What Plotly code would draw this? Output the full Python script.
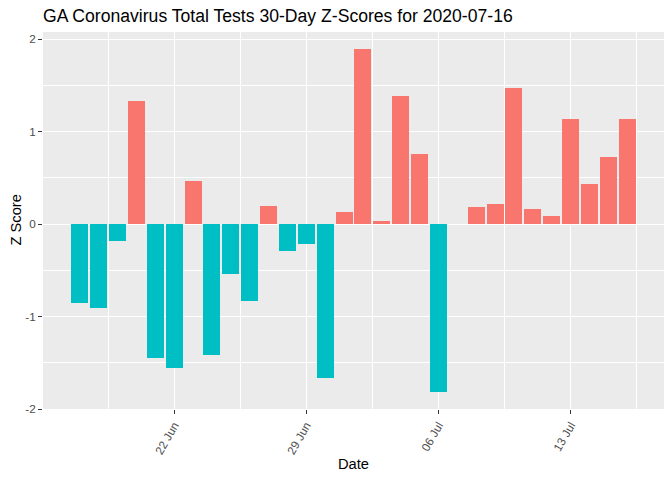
import plotly.graph_objects as go
import pandas as pd

dates = pd.date_range("2020-06-17", "2020-07-16", freq="D")
zscores = [-0.85, -0.91, -0.18, 1.33, -1.45, -1.56, 0.46, -1.42, -0.54, -0.83,
           0.20, -0.29, -0.22, -1.67, 0.13, 1.89, 0.03, 1.38, 0.76, -1.82,
           None, 0.18, 0.22, 1.47, 0.16, 0.09, 1.14, 0.43, 0.72, 1.14]
tick_dates = ["2020-06-22", "2020-06-29", "2020-07-06", "2020-07-13"]
tick_labels = ["22 Jun", "29 Jun", "06 Jul", "13 Jul"]

POS = "#F8766D"
NEG = "#00BFC4"
colors = [POS if (v is not None and v >= 0) else NEG for v in zscores]
DAY = 86400000

# page body has an 8px margin; the figure is sized so the panel lands where the reference has it
OFF = 8
W, H = 672 - OFF, 480 - OFF
L, R, T, B = 43 - OFF, 8, 32 - OFF, 71
PW, PH = W - L - R, H - T - B

fig = go.Figure()
fig.add_trace(go.Bar(x=dates, y=zscores, marker=dict(color=colors, line=dict(width=0)),
                     width=[0.9 * DAY] * len(dates), showlegend=False))

fig.update_layout(
    width=W, height=H,
    margin=dict(l=L, r=R, t=T, b=B, autoexpand=False),
    paper_bgcolor="white", plot_bgcolor="#EBEBEB",
    font=dict(family="Liberation Sans, Arial, sans-serif", color="black"),
    title=dict(text="GA Coronavirus Total Tests 30-Day Z-Scores for 2020-07-16",
               x=L / W, xanchor="left", xref="container",
               y=1 - (16 - OFF) / H, yanchor="middle", yref="container",
               font=dict(size=17.6, color="black")),
    bargap=0,
    annotations=[
        dict(text="Date", xref="paper", yref="paper",
             x=0.5, y=-((464 - OFF) - (H - B)) / PH, xanchor="center", yanchor="middle",
             showarrow=False, font=dict(size=14.7, color="black")),
        dict(text="Z Score", xref="paper", yref="paper", textangle=-90,
             x=-(L - (15 - OFF)) / PW, y=0.5, xanchor="center", yanchor="middle",
             showarrow=False, font=dict(size=14.7, color="black")),
    ],
)
fig.update_xaxes(
    type="date", automargin=False,
    range=["2020-06-15 01:19", "2020-07-17 22:41"],
    tickvals=tick_dates, ticktext=tick_labels, tickangle=-60,
    tickfont=dict(size=11.7, color="#4D4D4D"),
    ticks="outside", ticklen=4, tickcolor="#333333", tickwidth=1,
    showgrid=True, gridcolor="white", gridwidth=1.4,
    minor=dict(dtick=7 * DAY, tick0="2020-06-18 12:00", showgrid=True,
               gridcolor="white", gridwidth=0.7),
    zeroline=False, showline=False,
)
fig.update_yaxes(
    automargin=False,
    range=[-2.0, 2.076],
    tickvals=[-2, -1, 0, 1, 2], ticktext=["-2", "-1", "0", "1", "2"],
    tickfont=dict(size=11.7, color="#4D4D4D"),
    ticks="outside", ticklen=4, tickcolor="#333333", tickwidth=1,
    showgrid=True, gridcolor="white", gridwidth=1.4,
    minor=dict(dtick=0.5, tick0=0, showgrid=True, gridcolor="white", gridwidth=0.7),
    zeroline=False, showline=False,
)

fig.write_html("out.html")
